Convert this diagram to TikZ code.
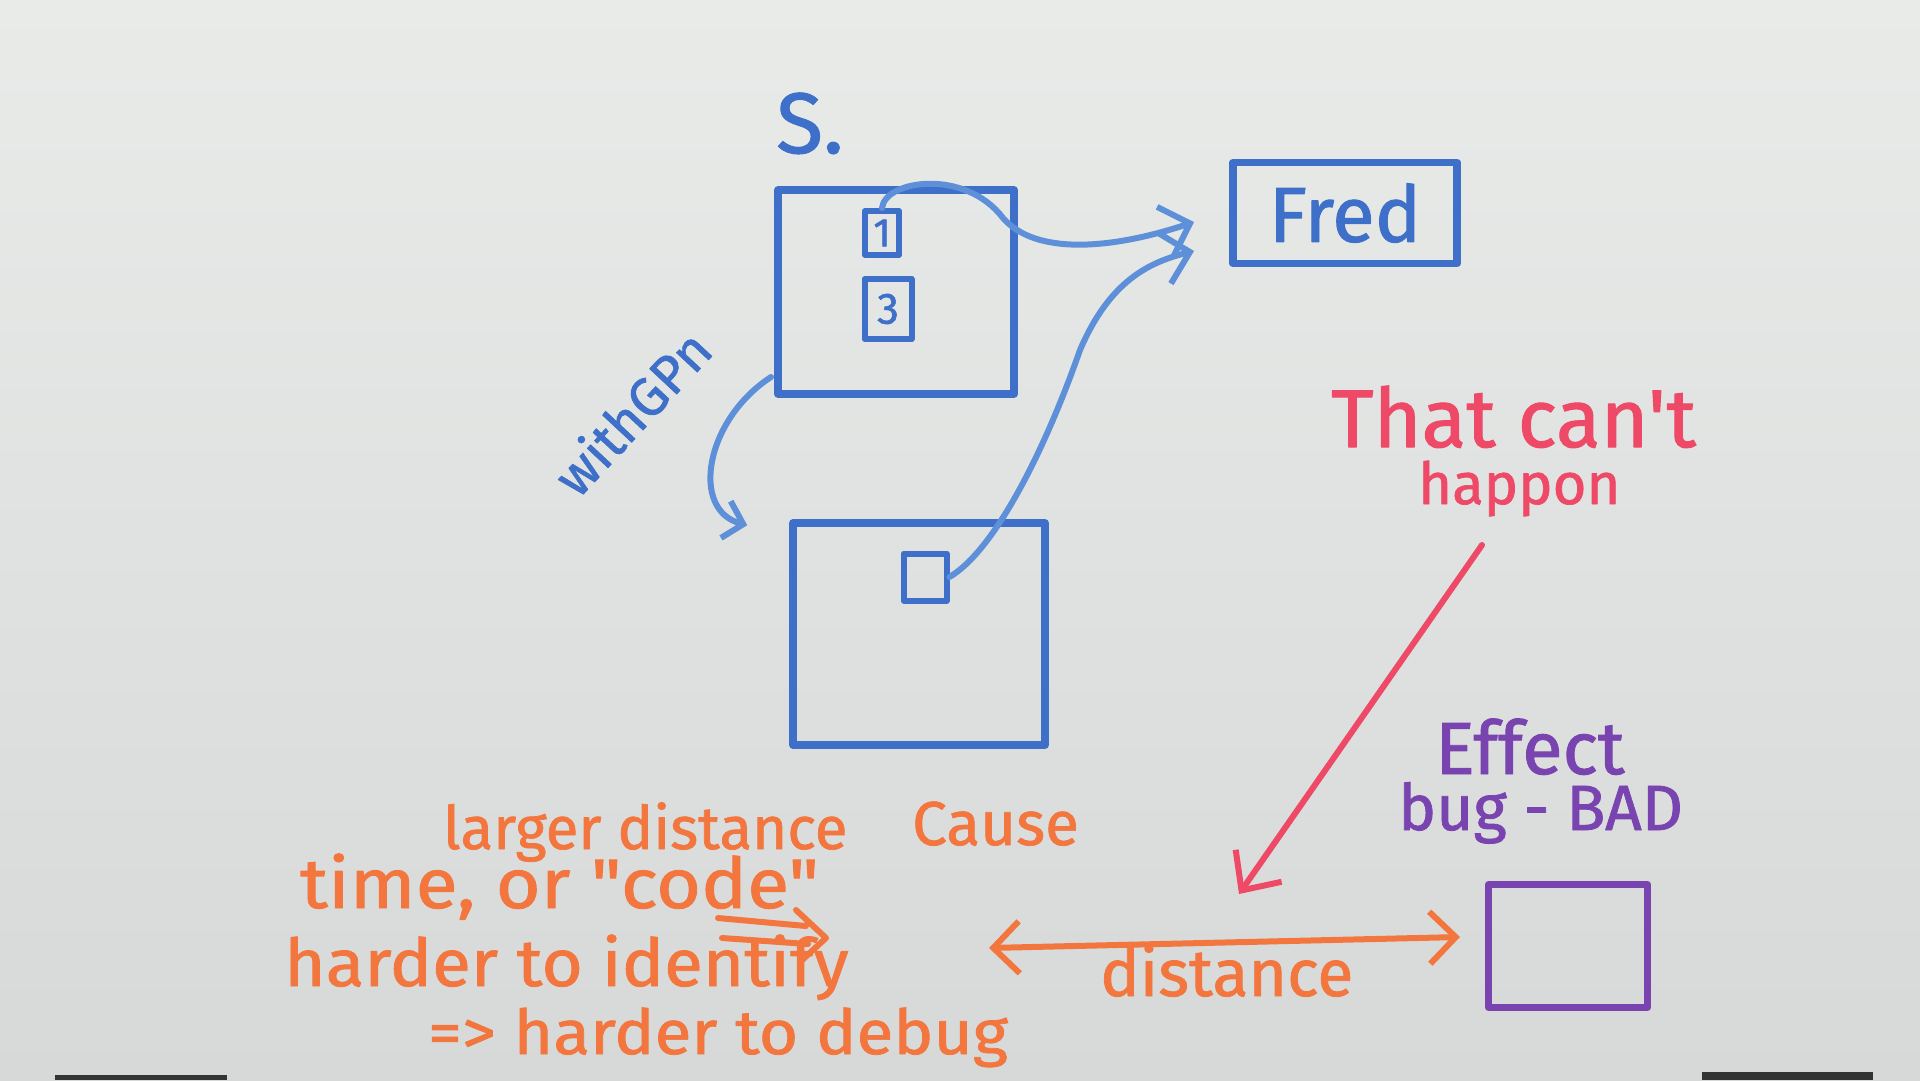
\documentclass[tikz,border=0pt]{standalone}
\usepackage{fontspec}
\setmainfont{Fira Sans}
\newfontfamily\handfont{Fira Sans}[FakeBold=1.2]
\usetikzlibrary{arrows.meta}
\definecolor{boardtop}{HTML}{E9EBE9}
\definecolor{boardbot}{HTML}{D6D9D8}
\definecolor{mblue}{HTML}{3E70C9}
\definecolor{lblue}{HTML}{5E90DA}
\definecolor{morange}{HTML}{F3763F}
\definecolor{mpink}{HTML}{EE4A68}
\definecolor{mpurple}{HTML}{7A44B0}
\begin{document}
\begin{tikzpicture}[x=1pt,y=-1pt,line cap=round,line join=round,
  boxb/.style={draw=mblue,line width=7.5pt,inner sep=0pt},
  conb/.style={draw=lblue,line width=6pt},
  barb/.style={-{Straight Barb[length=26pt,width=52pt]}},
  dbarb/.style={{Straight Barb[length=26pt,width=52pt]}-{Straight Barb[length=26pt,width=52pt]}},
  hw/.style={inner sep=0pt,anchor=base west,font=\handfont\fontsize{#1}{#1}\selectfont}]
\shade[top color=boardtop,bottom color=boardbot] (0,0) rectangle (1920,1080);
\useasboundingbox (0,0) rectangle (1920,1080);
\fill[black!80] (55,1075) rectangle (227,1080);
\fill[black!80] (1702,1072) rectangle (1873,1080);
% blue part
\node[hw=86,text=mblue] (sdot) at (776,153) {S.};
\node[boxb,minimum width=236,minimum height=204] (b1) at (896,292) {};
\node[boxb,line width=6pt,minimum width=34,minimum height=44,text=mblue,font=\handfont\fontsize{40}{40}\selectfont] (s1) at (882,233) {1};
\node[boxb,line width=6pt,minimum width=47,minimum height=60,text=mblue,font=\handfont\fontsize{44}{44}\selectfont] (s2) at (888,309) {3};
\node[boxb,minimum width=224,minimum height=101,text=mblue,font=\handfont\fontsize{78}{78}\selectfont] (fred) at (1345,213) {Fred};
\node[boxb,minimum width=252,minimum height=222] (b2) at (919,634) {};
\node[boxb,line width=6pt,minimum width=43,minimum height=47] (s3) at (925,577) {};
\coordinate (t1) at (1194,222);
\coordinate (t2) at (1194,251);
\draw[conb,barb] (s1.north) .. controls (885,180) and (965,168) .. (1003,218) .. controls (1035,255) and (1110,250) .. (t1);
\draw[conb,barb] (s3.east) .. controls (995,550) and (1045,450) .. (1080,350) .. controls (1110,280) and (1150,262) .. (t2);
\coordinate (w1) at (771,377);
\draw[conb,-{Straight Barb[length=18pt,width=38pt]}] (w1) .. controls (705,420) and (690,510) .. ([shift={(-42,6)}]b2.north west);
\node[hw=54,text=mblue,rotate=47] (gps) at (578,500) {withGPn};
% pink
\node[hw=82,text=mpink] (that) at (1331,447) {That can't};
\node[hw=58,text=mpink] (happ) at (1418,504) {happon};
\coordinate (p1) at (1482,545);
\coordinate (p2) at (1239,894);
\draw[draw=mpink,line width=6pt,-{Straight Barb[length=30pt,width=56pt]}] (p1) -- (p2);
% purple
\node[hw=74,text=mpurple] (eff) at (1435,774) {Effect};
\node[hw=64,text=mpurple] (bug) at (1398,830) {bug - BAD};
\node[draw=mpurple,line width=7pt,inner sep=0pt,minimum width=159,minimum height=123] (pbox) at (1568,946) {};
% orange
\coordinate (d1) at (989,948);
\draw[draw=morange,line width=6pt,dbarb] (d1) -- ([shift={(-25,-9)}]pbox.west);
\node[hw=66,text=morange] (dist) at (1100,996) {distance};
\node[hw=60,text=morange] (larger) at (443,849) {larger distance};
\node[hw=62,text=morange] (cause) at (912,845) {Cause};
\node[hw=70,text=morange] (time) at (300,908) {\scalebox{1.1}[1]{time, or "code"}};
\node[hw=66,text=morange] (hard1) at (284,986) {\scalebox{1.075}[1]{harder to identify}};
\node[hw=62,text=morange] (hard2) at (428,1054) {\scalebox{1.09}[1]{=> harder to debug}};
\draw[draw=morange,line width=6pt] (718,918) -- (806,926) (722,938) -- (808,944) (796,910) -- (826,938) -- (800,962);
\end{tikzpicture}
\end{document}
